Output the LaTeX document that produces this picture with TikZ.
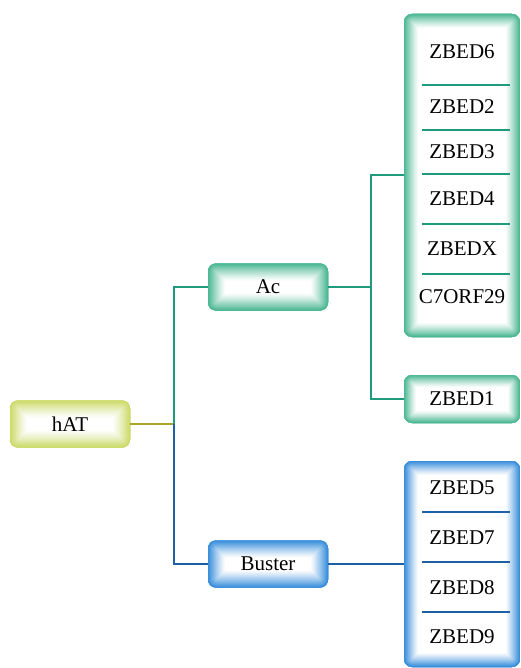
\documentclass[tikz,border=0pt]{standalone}
\usepackage{fontspec}
\setmainfont{Liberation Serif}
\definecolor{hatedge}{HTML}{CCDB6A}
\definecolor{hatline}{HTML}{ABA62A}
\definecolor{acedge}{HTML}{4DB894}
\definecolor{acline}{HTML}{1E9A7C}
\definecolor{buedge}{HTML}{3A8FDC}
\definecolor{buline}{HTML}{1F5FA8}
\tikzset{
  glow/.style 2 args={draw=none, rounded corners=8pt, fill=white, inner sep=0pt,
    path picture={
      \foreach \k in {#2,...,1}{
        \pgfmathsetmacro\pc{100*((#2+1-\k)/#2)^1.2}
        \draw[line width=2*\k pt, color=#1!\pc!white, rounded corners=8pt]
          (path picture bounding box.south west) rectangle
          (path picture bounding box.north east);
      }}},
  lbl/.style={font=\fontsize{21}{24}\selectfont, inner sep=0pt},
  conn/.style={line width=2pt},
  sep/.style={line width=2pt},
}
\begin{document}
\begin{tikzpicture}[x=1pt,y=-1pt]
\useasboundingbox (0,0) rectangle (521,668);
% main boxes
\node[glow={hatedge}{17}, minimum width=120pt, minimum height=47pt] (hAT) at (70,424) {};
\node[lbl] (hATt) at (hAT) {hAT};
\node[glow={acedge}{17}, minimum width=120pt, minimum height=47pt] (Ac) at (268,287) {};
\node[lbl] (Act) at (Ac) {Ac};
\node[glow={buedge}{17}, minimum width=120pt, minimum height=47pt] (Buster) at (268,564) {};
\node[lbl] (Bustert) at (Buster) {Buster};
% Ac group
\node[glow={acedge}{14}, minimum width=116pt, minimum height=323pt] (acg) at (462,175.5) {};
\node[lbl] (z6) at (462,52) {ZBED6};
\node[lbl] (z2) at (462,107) {ZBED2};
\node[lbl] (z3) at (462,152) {ZBED3};
\node[lbl] (z4) at (462,199) {ZBED4};
\node[lbl] (zx) at (462,249) {ZBEDX};
\node[lbl] (c7) at (462,297) {C7ORF29};
\foreach \yy in {85,130,174,224,274}{
  \draw[sep, acline] (422,\yy) -- (510,\yy);
}
\node[glow={acedge}{12}, minimum width=116pt, minimum height=48pt] (z1) at (462,399) {};
\node[lbl] (z1t) at (z1) {ZBED1};
% Buster group
\node[glow={buedge}{14}, minimum width=116pt, minimum height=206pt] (bug) at (462,564) {};
\node[lbl] (z5) at (462,488) {ZBED5};
\node[lbl] (z7) at (462,538) {ZBED7};
\node[lbl] (z8) at (462,588) {ZBED8};
\node[lbl] (z9) at (462,637) {ZBED9};
\foreach \yy in {512,562,612}{
  \draw[sep, buline] (422,\yy) -- (510,\yy);
}
% connectors
\coordinate (j1) at (174,424);
\coordinate (j2) at (371,287);
\draw[conn, hatline] (hAT.east) -- (j1);
\draw[conn, acline] (j1) |- (Ac.west);
\draw[conn, buline] (j1) |- (Buster.west);
\draw[conn, acline] (Ac.east) -- (j2);
\draw[conn, acline] (j2) |- (acg.west);
\draw[conn, acline] (j2) |- (z1.west);
\draw[conn, buline] (Buster.east) -- (bug.west);
\end{tikzpicture}
\end{document}
